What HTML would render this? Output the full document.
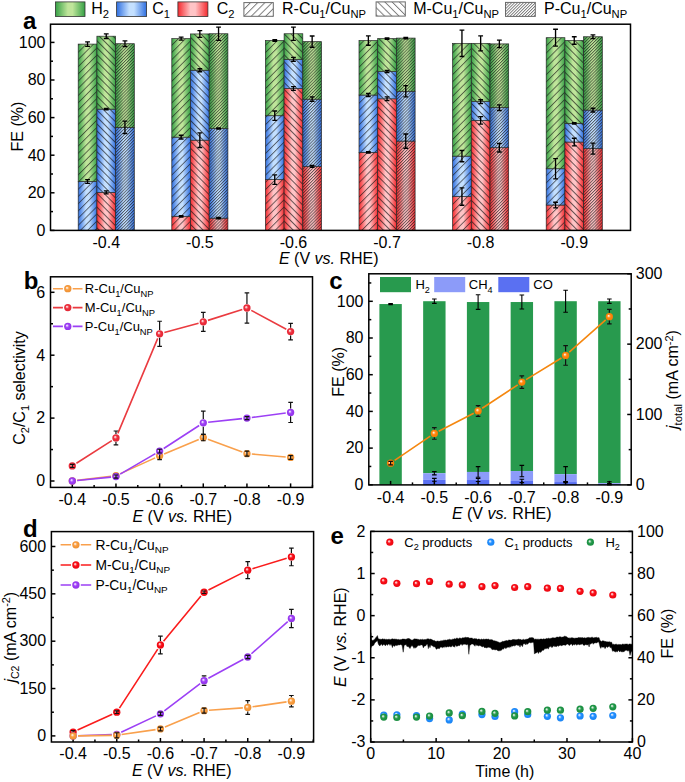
<!DOCTYPE html>
<html><head><meta charset="utf-8"><title>figure</title>
<style>
html,body{margin:0;padding:0;background:#fff;}
svg{display:block;font-family:"Liberation Sans",sans-serif;}
</style></head>
<body>
<svg width="685" height="782" viewBox="0 0 685 782" font-family="Liberation Sans, sans-serif">
<rect width="685" height="782" fill="#fff"/>
<defs>
<linearGradient id="lgg" x1="0" y1="0" x2="1" y2="0"><stop offset="0" stop-color="#35a045"/><stop offset="0.42" stop-color="#bfe59a"/><stop offset="0.58" stop-color="#bfe59a"/><stop offset="1" stop-color="#35a045"/></linearGradient>
<linearGradient id="lgb" x1="0" y1="0" x2="1" y2="0"><stop offset="0" stop-color="#2f6fe0"/><stop offset="0.42" stop-color="#c4e0ff"/><stop offset="0.58" stop-color="#c4e0ff"/><stop offset="1" stop-color="#2f6fe0"/></linearGradient>
<linearGradient id="lgr" x1="0" y1="0" x2="1" y2="0"><stop offset="0" stop-color="#f52a2e"/><stop offset="0.42" stop-color="#ffc4c6"/><stop offset="0.58" stop-color="#ffc4c6"/><stop offset="1" stop-color="#f52a2e"/></linearGradient>
<pattern id="hR" patternUnits="userSpaceOnUse" width="5.1" height="10" patternTransform="rotate(45)"><line x1="0.5" y1="-1" x2="0.5" y2="11" stroke="#111" stroke-width="0.75" stroke-opacity="0.85"/></pattern>
<pattern id="hM" patternUnits="userSpaceOnUse" width="4.9" height="10" patternTransform="rotate(-45)"><line x1="0.5" y1="-1" x2="0.5" y2="11" stroke="#111" stroke-width="0.75" stroke-opacity="0.85"/></pattern>
<pattern id="hP" patternUnits="userSpaceOnUse" width="2.15" height="10" patternTransform="rotate(45)"><line x1="0.5" y1="-1" x2="0.5" y2="11" stroke="#111" stroke-width="0.72" stroke-opacity="0.8"/></pattern>
<pattern id="hRL" patternUnits="userSpaceOnUse" width="5.1" height="10" patternTransform="rotate(45)"><line x1="0.5" y1="-1" x2="0.5" y2="11" stroke="#707070" stroke-width="0.9"/></pattern>
<pattern id="hML" patternUnits="userSpaceOnUse" width="5.1" height="10" patternTransform="rotate(-45)"><line x1="0.5" y1="-1" x2="0.5" y2="11" stroke="#707070" stroke-width="0.9"/></pattern>
<pattern id="hPL" patternUnits="userSpaceOnUse" width="2.1" height="10" patternTransform="rotate(45)"><line x1="0.5" y1="-1" x2="0.5" y2="11" stroke="#606060" stroke-width="0.75"/></pattern>
<radialGradient id="rbor" cx="0.5" cy="0.5" r="0.5" fx="0.37" fy="0.35"><stop offset="0" stop-color="#fff7ef"/><stop offset="0.18" stop-color="#fde1c4"/><stop offset="0.42" stop-color="#faa652"/><stop offset="0.6" stop-color="#f99a3a"/><stop offset="1" stop-color="#ea9137"/></radialGradient>
<radialGradient id="rbre" cx="0.5" cy="0.5" r="0.5" fx="0.37" fy="0.35"><stop offset="0" stop-color="#feeeef"/><stop offset="0.18" stop-color="#fac0c4"/><stop offset="0.42" stop-color="#f04552"/><stop offset="0.6" stop-color="#ee2c3a"/><stop offset="1" stop-color="#e02937"/></radialGradient>
<radialGradient id="rbpu" cx="0.5" cy="0.5" r="0.5" fx="0.37" fy="0.35"><stop offset="0" stop-color="#f7effe"/><stop offset="0.18" stop-color="#e1c4fc"/><stop offset="0.42" stop-color="#a752f6"/><stop offset="0.6" stop-color="#9b3af5"/><stop offset="1" stop-color="#9237e6"/></radialGradient>
<radialGradient id="rbbl" cx="0.5" cy="0.5" r="0.5" fx="0.37" fy="0.35"><stop offset="0" stop-color="#edf6ff"/><stop offset="0.18" stop-color="#bcdcff"/><stop offset="0.42" stop-color="#399aff"/><stop offset="0.6" stop-color="#1e8cff"/><stop offset="1" stop-color="#1c84f0"/></radialGradient>
<radialGradient id="rbgr" cx="0.5" cy="0.5" r="0.5" fx="0.37" fy="0.35"><stop offset="0" stop-color="#edf7f0"/><stop offset="0.18" stop-color="#bce0c8"/><stop offset="0.42" stop-color="#39a35c"/><stop offset="0.6" stop-color="#1e9646"/><stop offset="1" stop-color="#1c8d42"/></radialGradient>
<radialGradient id="rboo" cx="0.5" cy="0.5" r="0.5" fx="0.37" fy="0.35"><stop offset="0" stop-color="#fff5eb"/><stop offset="0.18" stop-color="#ffdab5"/><stop offset="0.42" stop-color="#ff9326"/><stop offset="0.6" stop-color="#ff8408"/><stop offset="1" stop-color="#f07c08"/></radialGradient>
<radialGradient id="rbrr" cx="0.5" cy="0.5" r="0.5" fx="0.37" fy="0.35"><stop offset="0" stop-color="#feebec"/><stop offset="0.18" stop-color="#fdb6b8"/><stop offset="0.42" stop-color="#f92730"/><stop offset="0.6" stop-color="#f80a14"/><stop offset="1" stop-color="#e90913"/></radialGradient>
</defs>
<rect x="55.4" y="1.9" width="29.6" height="14.6" fill="url(#lgg)" stroke="#333" stroke-width="0.8"/>
<text x="91.2" y="14.2" font-size="16" text-anchor="start" >H<tspan dy="4.2" font-size="70%">2</tspan><tspan dy="-4.2">​</tspan></text>
<rect x="116.6" y="1.9" width="30" height="14.6" fill="url(#lgb)" stroke="#333" stroke-width="0.8"/>
<text x="152.3" y="14.2" font-size="16" text-anchor="start" >C<tspan dy="4.2" font-size="70%">1</tspan><tspan dy="-4.2">​</tspan></text>
<rect x="177.9" y="1.9" width="30" height="14.6" fill="url(#lgr)" stroke="#333" stroke-width="0.8"/>
<text x="216.8" y="14.2" font-size="16" text-anchor="start" >C<tspan dy="4.2" font-size="70%">2</tspan><tspan dy="-4.2">​</tspan></text>
<rect x="243.9" y="2.6" width="29.4" height="13.7" fill="#fff"/>
<rect x="243.9" y="2.6" width="29.4" height="13.7" fill="url(#hRL)" stroke="#6a6a6a" stroke-width="1"/>
<text x="282" y="14.2" font-size="16" text-anchor="start" >R-Cu<tspan dy="4.2" font-size="70%">1</tspan><tspan dy="-4.2">​</tspan>/Cu<tspan dy="4.2" font-size="70%">NP</tspan><tspan dy="-4.2">​</tspan></text>
<rect x="376.1" y="1.9" width="29.2" height="14.2" fill="#fff"/>
<rect x="376.1" y="1.9" width="29.2" height="14.2" fill="url(#hML)" stroke="#6a6a6a" stroke-width="1"/>
<text x="413.2" y="14.2" font-size="16" text-anchor="start" >M-Cu<tspan dy="4.2" font-size="70%">1</tspan><tspan dy="-4.2">​</tspan>/Cu<tspan dy="4.2" font-size="70%">NP</tspan><tspan dy="-4.2">​</tspan></text>
<rect x="505.5" y="2.4" width="29.8" height="14" fill="#fff"/>
<rect x="505.5" y="2.4" width="29.8" height="14" fill="url(#hPL)" stroke="#6a6a6a" stroke-width="1"/>
<text x="544" y="14.2" font-size="16" text-anchor="start" >P-Cu<tspan dy="4.2" font-size="70%">1</tspan><tspan dy="-4.2">​</tspan>/Cu<tspan dy="4.2" font-size="70%">NP</tspan><tspan dy="-4.2">​</tspan></text>
<text x="23" y="28.5" font-size="24" text-anchor="start" font-weight="bold">a</text>
<rect x="78.2" y="181.52" width="18.7" height="48.88" fill="url(#lgb)" />
<rect x="78.2" y="181.52" width="18.7" height="48.88" fill="url(#hR)" stroke="#2a2a2a" stroke-width="0.7"/>
<rect x="78.2" y="44.09" width="18.7" height="137.43" fill="url(#lgg)" />
<rect x="78.2" y="44.09" width="18.7" height="137.43" fill="url(#hR)" stroke="#2a2a2a" stroke-width="0.7"/>
<rect x="96.9" y="192.42" width="18.7" height="37.98" fill="url(#lgr)" />
<rect x="96.9" y="192.42" width="18.7" height="37.98" fill="url(#hM)" stroke="#2a2a2a" stroke-width="0.7"/>
<rect x="96.9" y="109.14" width="18.7" height="83.28" fill="url(#lgb)" />
<rect x="96.9" y="109.14" width="18.7" height="83.28" fill="url(#hM)" stroke="#2a2a2a" stroke-width="0.7"/>
<rect x="96.9" y="36.2" width="18.7" height="72.94" fill="url(#lgg)" />
<rect x="96.9" y="36.2" width="18.7" height="72.94" fill="url(#hM)" stroke="#2a2a2a" stroke-width="0.7"/>
<rect x="115.6" y="127.38" width="18.7" height="103.02" fill="url(#lgb)" />
<rect x="115.6" y="127.38" width="18.7" height="103.02" fill="url(#hP)" stroke="#2a2a2a" stroke-width="0.7"/>
<rect x="115.6" y="43.72" width="18.7" height="83.66" fill="url(#lgg)" />
<rect x="115.6" y="43.72" width="18.7" height="83.66" fill="url(#hP)" stroke="#2a2a2a" stroke-width="0.7"/>
<rect x="171.8" y="216.3" width="18.7" height="14.1" fill="url(#lgr)" />
<rect x="171.8" y="216.3" width="18.7" height="14.1" fill="url(#hR)" stroke="#2a2a2a" stroke-width="0.7"/>
<rect x="171.8" y="137.15" width="18.7" height="79.15" fill="url(#lgb)" />
<rect x="171.8" y="137.15" width="18.7" height="79.15" fill="url(#hR)" stroke="#2a2a2a" stroke-width="0.7"/>
<rect x="171.8" y="38.64" width="18.7" height="98.51" fill="url(#lgg)" />
<rect x="171.8" y="38.64" width="18.7" height="98.51" fill="url(#hR)" stroke="#2a2a2a" stroke-width="0.7"/>
<rect x="190.5" y="140.16" width="18.7" height="90.24" fill="url(#lgr)" />
<rect x="190.5" y="140.16" width="18.7" height="90.24" fill="url(#hM)" stroke="#2a2a2a" stroke-width="0.7"/>
<rect x="190.5" y="70.22" width="18.7" height="69.94" fill="url(#lgb)" />
<rect x="190.5" y="70.22" width="18.7" height="69.94" fill="url(#hM)" stroke="#2a2a2a" stroke-width="0.7"/>
<rect x="190.5" y="33.94" width="18.7" height="36.28" fill="url(#lgg)" />
<rect x="190.5" y="33.94" width="18.7" height="36.28" fill="url(#hM)" stroke="#2a2a2a" stroke-width="0.7"/>
<rect x="209.2" y="218.18" width="18.7" height="12.22" fill="url(#lgr)" />
<rect x="209.2" y="218.18" width="18.7" height="12.22" fill="url(#hP)" stroke="#2a2a2a" stroke-width="0.7"/>
<rect x="209.2" y="128.5" width="18.7" height="89.68" fill="url(#lgb)" />
<rect x="209.2" y="128.5" width="18.7" height="89.68" fill="url(#hP)" stroke="#2a2a2a" stroke-width="0.7"/>
<rect x="209.2" y="33.75" width="18.7" height="94.75" fill="url(#lgg)" />
<rect x="209.2" y="33.75" width="18.7" height="94.75" fill="url(#hP)" stroke="#2a2a2a" stroke-width="0.7"/>
<rect x="265.4" y="179.64" width="18.7" height="50.76" fill="url(#lgr)" />
<rect x="265.4" y="179.64" width="18.7" height="50.76" fill="url(#hR)" stroke="#2a2a2a" stroke-width="0.7"/>
<rect x="265.4" y="115.72" width="18.7" height="63.92" fill="url(#lgb)" />
<rect x="265.4" y="115.72" width="18.7" height="63.92" fill="url(#hR)" stroke="#2a2a2a" stroke-width="0.7"/>
<rect x="265.4" y="40.52" width="18.7" height="75.2" fill="url(#lgg)" />
<rect x="265.4" y="40.52" width="18.7" height="75.2" fill="url(#hR)" stroke="#2a2a2a" stroke-width="0.7"/>
<rect x="284.1" y="88.46" width="18.7" height="141.94" fill="url(#lgr)" />
<rect x="284.1" y="88.46" width="18.7" height="141.94" fill="url(#hM)" stroke="#2a2a2a" stroke-width="0.7"/>
<rect x="284.1" y="59.32" width="18.7" height="29.14" fill="url(#lgb)" />
<rect x="284.1" y="59.32" width="18.7" height="29.14" fill="url(#hM)" stroke="#2a2a2a" stroke-width="0.7"/>
<rect x="284.1" y="33.75" width="18.7" height="25.57" fill="url(#lgg)" />
<rect x="284.1" y="33.75" width="18.7" height="25.57" fill="url(#hM)" stroke="#2a2a2a" stroke-width="0.7"/>
<rect x="302.8" y="166.48" width="18.7" height="63.92" fill="url(#lgr)" />
<rect x="302.8" y="166.48" width="18.7" height="63.92" fill="url(#hP)" stroke="#2a2a2a" stroke-width="0.7"/>
<rect x="302.8" y="99.18" width="18.7" height="67.3" fill="url(#lgb)" />
<rect x="302.8" y="99.18" width="18.7" height="67.3" fill="url(#hP)" stroke="#2a2a2a" stroke-width="0.7"/>
<rect x="302.8" y="41.65" width="18.7" height="57.53" fill="url(#lgg)" />
<rect x="302.8" y="41.65" width="18.7" height="57.53" fill="url(#hP)" stroke="#2a2a2a" stroke-width="0.7"/>
<rect x="359" y="152.38" width="18.7" height="78.02" fill="url(#lgr)" />
<rect x="359" y="152.38" width="18.7" height="78.02" fill="url(#hR)" stroke="#2a2a2a" stroke-width="0.7"/>
<rect x="359" y="95.04" width="18.7" height="57.34" fill="url(#lgb)" />
<rect x="359" y="95.04" width="18.7" height="57.34" fill="url(#hR)" stroke="#2a2a2a" stroke-width="0.7"/>
<rect x="359" y="40.52" width="18.7" height="54.52" fill="url(#lgg)" />
<rect x="359" y="40.52" width="18.7" height="54.52" fill="url(#hR)" stroke="#2a2a2a" stroke-width="0.7"/>
<rect x="377.7" y="98.8" width="18.7" height="131.6" fill="url(#lgr)" />
<rect x="377.7" y="98.8" width="18.7" height="131.6" fill="url(#hM)" stroke="#2a2a2a" stroke-width="0.7"/>
<rect x="377.7" y="71.54" width="18.7" height="27.26" fill="url(#lgb)" />
<rect x="377.7" y="71.54" width="18.7" height="27.26" fill="url(#hM)" stroke="#2a2a2a" stroke-width="0.7"/>
<rect x="377.7" y="38.64" width="18.7" height="32.9" fill="url(#lgg)" />
<rect x="377.7" y="38.64" width="18.7" height="32.9" fill="url(#hM)" stroke="#2a2a2a" stroke-width="0.7"/>
<rect x="396.4" y="141.1" width="18.7" height="89.3" fill="url(#lgr)" />
<rect x="396.4" y="141.1" width="18.7" height="89.3" fill="url(#hP)" stroke="#2a2a2a" stroke-width="0.7"/>
<rect x="396.4" y="91.28" width="18.7" height="49.82" fill="url(#lgb)" />
<rect x="396.4" y="91.28" width="18.7" height="49.82" fill="url(#hP)" stroke="#2a2a2a" stroke-width="0.7"/>
<rect x="396.4" y="38.08" width="18.7" height="53.2" fill="url(#lgg)" />
<rect x="396.4" y="38.08" width="18.7" height="53.2" fill="url(#hP)" stroke="#2a2a2a" stroke-width="0.7"/>
<rect x="452.6" y="196.56" width="18.7" height="33.84" fill="url(#lgr)" />
<rect x="452.6" y="196.56" width="18.7" height="33.84" fill="url(#hR)" stroke="#2a2a2a" stroke-width="0.7"/>
<rect x="452.6" y="156.14" width="18.7" height="40.42" fill="url(#lgb)" />
<rect x="452.6" y="156.14" width="18.7" height="40.42" fill="url(#hR)" stroke="#2a2a2a" stroke-width="0.7"/>
<rect x="452.6" y="43.34" width="18.7" height="112.8" fill="url(#lgg)" />
<rect x="452.6" y="43.34" width="18.7" height="112.8" fill="url(#hR)" stroke="#2a2a2a" stroke-width="0.7"/>
<rect x="471.3" y="120.42" width="18.7" height="109.98" fill="url(#lgr)" />
<rect x="471.3" y="120.42" width="18.7" height="109.98" fill="url(#hM)" stroke="#2a2a2a" stroke-width="0.7"/>
<rect x="471.3" y="101.62" width="18.7" height="18.8" fill="url(#lgb)" />
<rect x="471.3" y="101.62" width="18.7" height="18.8" fill="url(#hM)" stroke="#2a2a2a" stroke-width="0.7"/>
<rect x="471.3" y="43.34" width="18.7" height="58.28" fill="url(#lgg)" />
<rect x="471.3" y="43.34" width="18.7" height="58.28" fill="url(#hM)" stroke="#2a2a2a" stroke-width="0.7"/>
<rect x="490" y="147.68" width="18.7" height="82.72" fill="url(#lgr)" />
<rect x="490" y="147.68" width="18.7" height="82.72" fill="url(#hP)" stroke="#2a2a2a" stroke-width="0.7"/>
<rect x="490" y="107.64" width="18.7" height="40.04" fill="url(#lgb)" />
<rect x="490" y="107.64" width="18.7" height="40.04" fill="url(#hP)" stroke="#2a2a2a" stroke-width="0.7"/>
<rect x="490" y="43.9" width="18.7" height="63.73" fill="url(#lgg)" />
<rect x="490" y="43.9" width="18.7" height="63.73" fill="url(#hP)" stroke="#2a2a2a" stroke-width="0.7"/>
<rect x="546.2" y="205.02" width="18.7" height="25.38" fill="url(#lgr)" />
<rect x="546.2" y="205.02" width="18.7" height="25.38" fill="url(#hR)" stroke="#2a2a2a" stroke-width="0.7"/>
<rect x="546.2" y="168.74" width="18.7" height="36.28" fill="url(#lgb)" />
<rect x="546.2" y="168.74" width="18.7" height="36.28" fill="url(#hR)" stroke="#2a2a2a" stroke-width="0.7"/>
<rect x="546.2" y="37.7" width="18.7" height="131.04" fill="url(#lgg)" />
<rect x="546.2" y="37.7" width="18.7" height="131.04" fill="url(#hR)" stroke="#2a2a2a" stroke-width="0.7"/>
<rect x="564.9" y="142.04" width="18.7" height="88.36" fill="url(#lgr)" />
<rect x="564.9" y="142.04" width="18.7" height="88.36" fill="url(#hM)" stroke="#2a2a2a" stroke-width="0.7"/>
<rect x="564.9" y="123.43" width="18.7" height="18.61" fill="url(#lgb)" />
<rect x="564.9" y="123.43" width="18.7" height="18.61" fill="url(#hM)" stroke="#2a2a2a" stroke-width="0.7"/>
<rect x="564.9" y="40.52" width="18.7" height="82.91" fill="url(#lgg)" />
<rect x="564.9" y="40.52" width="18.7" height="82.91" fill="url(#hM)" stroke="#2a2a2a" stroke-width="0.7"/>
<rect x="583.6" y="148.62" width="18.7" height="81.78" fill="url(#lgr)" />
<rect x="583.6" y="148.62" width="18.7" height="81.78" fill="url(#hP)" stroke="#2a2a2a" stroke-width="0.7"/>
<rect x="583.6" y="110.08" width="18.7" height="38.54" fill="url(#lgb)" />
<rect x="583.6" y="110.08" width="18.7" height="38.54" fill="url(#hP)" stroke="#2a2a2a" stroke-width="0.7"/>
<rect x="583.6" y="36.76" width="18.7" height="73.32" fill="url(#lgg)" />
<rect x="583.6" y="36.76" width="18.7" height="73.32" fill="url(#hP)" stroke="#2a2a2a" stroke-width="0.7"/>
<path d="M87.55 179.64V183.4M85.15 179.64H89.95M85.15 183.4H89.95" stroke="#000" stroke-width="1.35" fill="none"/>
<path d="M87.55 41.84V46.35M85.15 41.84H89.95M85.15 46.35H89.95" stroke="#000" stroke-width="1.35" fill="none"/>
<path d="M106.25 190.92V193.93M103.85 190.92H108.65M103.85 193.93H108.65" stroke="#000" stroke-width="1.35" fill="none"/>
<path d="M106.25 108.48V109.8M103.85 108.48H108.65M103.85 109.8H108.65" stroke="#000" stroke-width="1.35" fill="none"/>
<path d="M106.25 33.94V38.45M103.85 33.94H108.65M103.85 38.45H108.65" stroke="#000" stroke-width="1.35" fill="none"/>
<path d="M124.95 121.17V133.58M122.55 121.17H127.35M122.55 133.58H127.35" stroke="#000" stroke-width="1.35" fill="none"/>
<path d="M124.95 40.9V46.54M122.55 40.9H127.35M122.55 46.54H127.35" stroke="#000" stroke-width="1.35" fill="none"/>
<path d="M181.15 215.64V216.96M178.75 215.64H183.55M178.75 216.96H183.55" stroke="#000" stroke-width="1.35" fill="none"/>
<path d="M181.15 135.27V139.03M178.75 135.27H183.55M178.75 139.03H183.55" stroke="#000" stroke-width="1.35" fill="none"/>
<path d="M181.15 37.14V40.14M178.75 37.14H183.55M178.75 40.14H183.55" stroke="#000" stroke-width="1.35" fill="none"/>
<path d="M199.85 132.83V147.49M197.45 132.83H202.25M197.45 147.49H202.25" stroke="#000" stroke-width="1.35" fill="none"/>
<path d="M199.85 68.72V71.73M197.45 68.72H202.25M197.45 71.73H202.25" stroke="#000" stroke-width="1.35" fill="none"/>
<path d="M199.85 30.56V37.32M197.45 30.56H202.25M197.45 37.32H202.25" stroke="#000" stroke-width="1.35" fill="none"/>
<path d="M218.55 217.52V218.84M216.15 217.52H220.95M216.15 218.84H220.95" stroke="#000" stroke-width="1.35" fill="none"/>
<path d="M218.55 127.85V129.16M216.15 127.85H220.95M216.15 129.16H220.95" stroke="#000" stroke-width="1.35" fill="none"/>
<path d="M218.55 27.17V40.33M216.15 27.17H220.95M216.15 40.33H220.95" stroke="#000" stroke-width="1.35" fill="none"/>
<path d="M274.75 174.94V184.34M272.35 174.94H277.15M272.35 184.34H277.15" stroke="#000" stroke-width="1.35" fill="none"/>
<path d="M274.75 111.02V120.42M272.35 111.02H277.15M272.35 120.42H277.15" stroke="#000" stroke-width="1.35" fill="none"/>
<path d="M274.75 39.77V41.27M272.35 39.77H277.15M272.35 41.27H277.15" stroke="#000" stroke-width="1.35" fill="none"/>
<path d="M293.45 86.58V90.34M291.05 86.58H295.85M291.05 90.34H295.85" stroke="#000" stroke-width="1.35" fill="none"/>
<path d="M293.45 57.44V61.2M291.05 57.44H295.85M291.05 61.2H295.85" stroke="#000" stroke-width="1.35" fill="none"/>
<path d="M293.45 27.17V40.33M291.05 27.17H295.85M291.05 40.33H295.85" stroke="#000" stroke-width="1.35" fill="none"/>
<path d="M312.15 165.54V167.42M309.75 165.54H314.55M309.75 167.42H314.55" stroke="#000" stroke-width="1.35" fill="none"/>
<path d="M312.15 96.92V101.43M309.75 96.92H314.55M309.75 101.43H314.55" stroke="#000" stroke-width="1.35" fill="none"/>
<path d="M312.15 36.01V47.29M309.75 36.01H314.55M309.75 47.29H314.55" stroke="#000" stroke-width="1.35" fill="none"/>
<path d="M368.35 151.72V153.04M365.95 151.72H370.75M365.95 153.04H370.75" stroke="#000" stroke-width="1.35" fill="none"/>
<path d="M368.35 93.54V96.54M365.95 93.54H370.75M365.95 96.54H370.75" stroke="#000" stroke-width="1.35" fill="none"/>
<path d="M368.35 35.82V45.22M365.95 35.82H370.75M365.95 45.22H370.75" stroke="#000" stroke-width="1.35" fill="none"/>
<path d="M387.05 96.92V100.68M384.65 96.92H389.45M384.65 100.68H389.45" stroke="#000" stroke-width="1.35" fill="none"/>
<path d="M387.05 70.41V72.67M384.65 70.41H389.45M384.65 72.67H389.45" stroke="#000" stroke-width="1.35" fill="none"/>
<path d="M387.05 37.98V39.3M384.65 37.98H389.45M384.65 39.3H389.45" stroke="#000" stroke-width="1.35" fill="none"/>
<path d="M405.75 133.96V148.24M403.35 133.96H408.15M403.35 148.24H408.15" stroke="#000" stroke-width="1.35" fill="none"/>
<path d="M405.75 85.64V96.92M403.35 85.64H408.15M403.35 96.92H408.15" stroke="#000" stroke-width="1.35" fill="none"/>
<path d="M405.75 37.42V38.73M403.35 37.42H408.15M403.35 38.73H408.15" stroke="#000" stroke-width="1.35" fill="none"/>
<path d="M461.95 187.91V205.21M459.55 187.91H464.35M459.55 205.21H464.35" stroke="#000" stroke-width="1.35" fill="none"/>
<path d="M461.95 150.5V161.78M459.55 150.5H464.35M459.55 161.78H464.35" stroke="#000" stroke-width="1.35" fill="none"/>
<path d="M461.95 30.18V56.5M459.55 30.18H464.35M459.55 56.5H464.35" stroke="#000" stroke-width="1.35" fill="none"/>
<path d="M480.65 116.66V124.18M478.25 116.66H483.05M478.25 124.18H483.05" stroke="#000" stroke-width="1.35" fill="none"/>
<path d="M480.65 99.74V103.5M478.25 99.74H483.05M478.25 103.5H483.05" stroke="#000" stroke-width="1.35" fill="none"/>
<path d="M480.65 35.82V50.86M478.25 35.82H483.05M478.25 50.86H483.05" stroke="#000" stroke-width="1.35" fill="none"/>
<path d="M499.35 143.36V152M496.95 143.36H501.75M496.95 152H501.75" stroke="#000" stroke-width="1.35" fill="none"/>
<path d="M499.35 104.82V110.46M496.95 104.82H501.75M496.95 110.46H501.75" stroke="#000" stroke-width="1.35" fill="none"/>
<path d="M499.35 40.14V47.66M496.95 40.14H501.75M496.95 47.66H501.75" stroke="#000" stroke-width="1.35" fill="none"/>
<path d="M555.55 202.2V207.84M553.15 202.2H557.95M553.15 207.84H557.95" stroke="#000" stroke-width="1.35" fill="none"/>
<path d="M555.55 158.58V178.89M553.15 158.58H557.95M553.15 178.89H557.95" stroke="#000" stroke-width="1.35" fill="none"/>
<path d="M555.55 29.24V46.16M553.15 29.24H557.95M553.15 46.16H557.95" stroke="#000" stroke-width="1.35" fill="none"/>
<path d="M574.25 138.28V145.8M571.85 138.28H576.65M571.85 145.8H576.65" stroke="#000" stroke-width="1.35" fill="none"/>
<path d="M574.25 122.77V124.09M571.85 122.77H576.65M571.85 124.09H576.65" stroke="#000" stroke-width="1.35" fill="none"/>
<path d="M574.25 36.76V44.28M571.85 36.76H576.65M571.85 44.28H576.65" stroke="#000" stroke-width="1.35" fill="none"/>
<path d="M592.95 143.17V154.07M590.55 143.17H595.35M590.55 154.07H595.35" stroke="#000" stroke-width="1.35" fill="none"/>
<path d="M592.95 108.2V111.96M590.55 108.2H595.35M590.55 111.96H595.35" stroke="#000" stroke-width="1.35" fill="none"/>
<path d="M592.95 34.88V38.64M590.55 34.88H595.35M590.55 38.64H595.35" stroke="#000" stroke-width="1.35" fill="none"/>
<rect x="50.5" y="24.2" width="580" height="206.2" fill="none" stroke="#000" stroke-width="1.5"/>
<line x1="50.5" y1="230.4" x2="54.5" y2="230.4" stroke="#000" stroke-width="1.5" />
<text x="45.5" y="235.7" font-size="16" text-anchor="end" >0</text>
<line x1="50.5" y1="192.8" x2="54.5" y2="192.8" stroke="#000" stroke-width="1.5" />
<text x="45.5" y="198.1" font-size="16" text-anchor="end" >20</text>
<line x1="50.5" y1="155.2" x2="54.5" y2="155.2" stroke="#000" stroke-width="1.5" />
<text x="45.5" y="160.5" font-size="16" text-anchor="end" >40</text>
<line x1="50.5" y1="117.6" x2="54.5" y2="117.6" stroke="#000" stroke-width="1.5" />
<text x="45.5" y="122.9" font-size="16" text-anchor="end" >60</text>
<line x1="50.5" y1="80" x2="54.5" y2="80" stroke="#000" stroke-width="1.5" />
<text x="45.5" y="85.3" font-size="16" text-anchor="end" >80</text>
<line x1="50.5" y1="42.4" x2="54.5" y2="42.4" stroke="#000" stroke-width="1.5" />
<text x="45.5" y="47.7" font-size="16" text-anchor="end" >100</text>
<line x1="50.5" y1="211.6" x2="53" y2="211.6" stroke="#000" stroke-width="1.5" />
<line x1="50.5" y1="174" x2="53" y2="174" stroke="#000" stroke-width="1.5" />
<line x1="50.5" y1="136.4" x2="53" y2="136.4" stroke="#000" stroke-width="1.5" />
<line x1="50.5" y1="98.8" x2="53" y2="98.8" stroke="#000" stroke-width="1.5" />
<line x1="50.5" y1="61.2" x2="53" y2="61.2" stroke="#000" stroke-width="1.5" />
<text x="106.25" y="247.6" font-size="16" text-anchor="middle" >-0.4</text>
<text x="199.85" y="247.6" font-size="16" text-anchor="middle" >-0.5</text>
<text x="293.45" y="247.6" font-size="16" text-anchor="middle" >-0.6</text>
<text x="387.05" y="247.6" font-size="16" text-anchor="middle" >-0.7</text>
<text x="480.65" y="247.6" font-size="16" text-anchor="middle" >-0.8</text>
<text x="574.25" y="247.6" font-size="16" text-anchor="middle" >-0.9</text>
<text x="328.8" y="264.4" font-size="16" text-anchor="middle" ><tspan font-style="italic">E</tspan> (V <tspan font-style="italic">vs.</tspan> RHE)</text>
<text x="0" y="0" font-size="16" text-anchor="middle" transform="translate(23.2 126.6) rotate(-90)">FE (%)</text>
<rect x="50.5" y="276.8" width="262" height="210.6" fill="none" stroke="#000" stroke-width="1.5"/>
<line x1="72.3" y1="487.4" x2="72.3" y2="483.4" stroke="#000" stroke-width="1.5" />
<text x="72.3" y="504.6" font-size="16" text-anchor="middle" >-0.4</text>
<line x1="115.96" y1="487.4" x2="115.96" y2="483.4" stroke="#000" stroke-width="1.5" />
<text x="115.96" y="504.6" font-size="16" text-anchor="middle" >-0.5</text>
<line x1="159.62" y1="487.4" x2="159.62" y2="483.4" stroke="#000" stroke-width="1.5" />
<text x="159.62" y="504.6" font-size="16" text-anchor="middle" >-0.6</text>
<line x1="203.28" y1="487.4" x2="203.28" y2="483.4" stroke="#000" stroke-width="1.5" />
<text x="203.28" y="504.6" font-size="16" text-anchor="middle" >-0.7</text>
<line x1="246.94" y1="487.4" x2="246.94" y2="483.4" stroke="#000" stroke-width="1.5" />
<text x="246.94" y="504.6" font-size="16" text-anchor="middle" >-0.8</text>
<line x1="290.6" y1="487.4" x2="290.6" y2="483.4" stroke="#000" stroke-width="1.5" />
<text x="290.6" y="504.6" font-size="16" text-anchor="middle" >-0.9</text>
<line x1="94.13" y1="487.4" x2="94.13" y2="484.9" stroke="#000" stroke-width="1.5" />
<line x1="137.79" y1="487.4" x2="137.79" y2="484.9" stroke="#000" stroke-width="1.5" />
<line x1="181.45" y1="487.4" x2="181.45" y2="484.9" stroke="#000" stroke-width="1.5" />
<line x1="225.11" y1="487.4" x2="225.11" y2="484.9" stroke="#000" stroke-width="1.5" />
<line x1="268.77" y1="487.4" x2="268.77" y2="484.9" stroke="#000" stroke-width="1.5" />
<line x1="312.43" y1="487.4" x2="312.43" y2="484.9" stroke="#000" stroke-width="1.5" />
<line x1="50.5" y1="481" x2="54.5" y2="481" stroke="#000" stroke-width="1.5" />
<text x="45.2" y="486.3" font-size="16" text-anchor="end" >0</text>
<line x1="50.5" y1="418.1" x2="54.5" y2="418.1" stroke="#000" stroke-width="1.5" />
<text x="45.2" y="423.4" font-size="16" text-anchor="end" >2</text>
<line x1="50.5" y1="355.2" x2="54.5" y2="355.2" stroke="#000" stroke-width="1.5" />
<text x="45.2" y="360.5" font-size="16" text-anchor="end" >4</text>
<line x1="50.5" y1="292.3" x2="54.5" y2="292.3" stroke="#000" stroke-width="1.5" />
<text x="45.2" y="297.6" font-size="16" text-anchor="end" >6</text>
<line x1="50.5" y1="449.55" x2="53" y2="449.55" stroke="#000" stroke-width="1.5" />
<line x1="50.5" y1="386.65" x2="53" y2="386.65" stroke="#000" stroke-width="1.5" />
<line x1="50.5" y1="323.75" x2="53" y2="323.75" stroke="#000" stroke-width="1.5" />
<path d="M76.43 463.26L111.83 440.56M117.86 433.39L157.72 338.33M164.35 332.52L198.55 323.16M207.95 320.38L242.27 309.51M251.25 310.35L286.29 329.28" fill="none" stroke="#ea3b40" stroke-width="1.6"/>
<circle cx="72.3" cy="465.9" r="3.65" fill="url(#rbre)"/>
<circle cx="115.96" cy="437.91" r="3.65" fill="url(#rbre)"/>
<circle cx="159.62" cy="333.81" r="3.65" fill="url(#rbre)"/>
<circle cx="203.28" cy="321.86" r="3.65" fill="url(#rbre)"/>
<circle cx="246.94" cy="308.02" r="3.65" fill="url(#rbre)"/>
<circle cx="290.6" cy="331.61" r="3.65" fill="url(#rbre)"/>
<path d="M70 464.33H74.6M70 467.48H74.6M72.3 464.33V465.9M72.3 465.9V467.48" stroke="#111" stroke-width="1.2" fill="none"/>
<path d="M113.66 430.99H118.26M113.66 444.83H118.26M115.96 430.99V434.01M115.96 441.81V444.83" stroke="#111" stroke-width="1.2" fill="none"/>
<path d="M157.32 321.23H161.92M157.32 346.39H161.92M159.62 321.23V329.91M159.62 337.71V346.39" stroke="#111" stroke-width="1.2" fill="none"/>
<path d="M200.98 312.43H205.58M200.98 331.3H205.58M203.28 312.43V317.96M203.28 325.76V331.3" stroke="#111" stroke-width="1.2" fill="none"/>
<path d="M244.64 292.93H249.24M244.64 323.12H249.24M246.94 292.93V304.12M246.94 311.92V323.12" stroke="#111" stroke-width="1.2" fill="none"/>
<path d="M288.3 323.44H292.9M288.3 339.79H292.9M290.6 323.44V327.71M290.6 335.51V339.79" stroke="#111" stroke-width="1.2" fill="none"/>
<path d="M77.16 480.4L111.1 476.25M120.42 473.63L155.16 457.86M164.14 453.95L198.76 439.49M207.88 439.29L242.34 451.95M251.82 454.06L285.72 456.99" fill="none" stroke="#f9a04c" stroke-width="1.6"/>
<circle cx="72.3" cy="481" r="3.65" fill="url(#rbor)"/>
<circle cx="115.96" cy="475.65" r="3.65" fill="url(#rbor)"/>
<circle cx="159.62" cy="455.84" r="3.65" fill="url(#rbor)"/>
<circle cx="203.28" cy="437.6" r="3.65" fill="url(#rbor)"/>
<circle cx="246.94" cy="453.64" r="3.65" fill="url(#rbor)"/>
<circle cx="290.6" cy="457.41" r="3.65" fill="url(#rbor)"/>
<path d="M113.66 474.08H118.26M113.66 477.23H118.26M115.96 474.08V475.65M115.96 475.65V477.23" stroke="#111" stroke-width="1.2" fill="none"/>
<path d="M157.32 452.07H161.92M157.32 459.61H161.92M159.62 452.07V455.84M159.62 455.84V459.61" stroke="#111" stroke-width="1.2" fill="none"/>
<path d="M200.98 434.45H205.58M200.98 440.74H205.58M203.28 434.45V437.6M203.28 437.6V440.74" stroke="#111" stroke-width="1.2" fill="none"/>
<path d="M244.64 451.12H249.24M244.64 456.15H249.24M246.94 451.12V453.64M246.94 453.64V456.15" stroke="#111" stroke-width="1.2" fill="none"/>
<path d="M288.3 455.53H292.9M288.3 459.3H292.9M290.6 455.53V457.41M290.6 457.41V459.3" stroke="#111" stroke-width="1.2" fill="none"/>
<path d="M77.18 480.51L111.08 477.09M120.19 474.13L155.39 453.59M163.73 448.46L199.17 425.48M208.15 422.29L242.07 418.63M251.8 417.47L285.74 413.07" fill="none" stroke="#9c40f5" stroke-width="1.6"/>
<circle cx="72.3" cy="481" r="3.65" fill="url(#rbpu)"/>
<circle cx="115.96" cy="476.6" r="3.65" fill="url(#rbpu)"/>
<circle cx="159.62" cy="451.12" r="3.65" fill="url(#rbpu)"/>
<circle cx="203.28" cy="422.82" r="3.65" fill="url(#rbpu)"/>
<circle cx="246.94" cy="418.1" r="3.65" fill="url(#rbpu)"/>
<circle cx="290.6" cy="412.44" r="3.65" fill="url(#rbpu)"/>
<path d="M113.66 475.02H118.26M113.66 478.17H118.26M115.96 475.02V476.6M115.96 476.6V478.17" stroke="#111" stroke-width="1.2" fill="none"/>
<path d="M157.32 449.24H161.92M157.32 453.01H161.92M159.62 449.24V451.12M159.62 451.12V453.01" stroke="#111" stroke-width="1.2" fill="none"/>
<path d="M200.98 411.18H205.58M200.98 434.45H205.58M203.28 411.18V418.92M203.28 426.72V434.45" stroke="#111" stroke-width="1.2" fill="none"/>
<path d="M244.64 416.53H249.24M244.64 419.67H249.24M246.94 416.53V418.1M246.94 418.1V419.67" stroke="#111" stroke-width="1.2" fill="none"/>
<path d="M288.3 402.38H292.9M288.3 422.5H292.9M290.6 402.38V408.54M290.6 416.34V422.5" stroke="#111" stroke-width="1.2" fill="none"/>
<path d="M53 288.7L67.8 288.7M67.8 288.7L82.5 288.7" fill="none" stroke="#f9a04c" stroke-width="1.6"/>
<rect x="62.9" y="286.7" width="9.8" height="4" fill="#fff"/>
<circle cx="67.8" cy="288.7" r="3.65" fill="url(#rbor)"/>
<text x="84.8" y="293.3" font-size="13" text-anchor="start" >R-Cu<tspan dy="3.6" font-size="72%">1</tspan><tspan dy="-3.6">​</tspan>/Cu<tspan dy="3.6" font-size="72%">NP</tspan><tspan dy="-3.6">​</tspan></text>
<path d="M53 307.6L67.8 307.6M67.8 307.6L82.5 307.6" fill="none" stroke="#ea3b40" stroke-width="1.6"/>
<rect x="62.9" y="305.6" width="9.8" height="4" fill="#fff"/>
<circle cx="67.8" cy="307.6" r="3.65" fill="url(#rbre)"/>
<text x="84.8" y="312.2" font-size="13" text-anchor="start" >M-Cu<tspan dy="3.6" font-size="72%">1</tspan><tspan dy="-3.6">​</tspan>/Cu<tspan dy="3.6" font-size="72%">NP</tspan><tspan dy="-3.6">​</tspan></text>
<path d="M53 326.4L67.8 326.4M67.8 326.4L82.5 326.4" fill="none" stroke="#9c40f5" stroke-width="1.6"/>
<rect x="62.9" y="324.4" width="9.8" height="4" fill="#fff"/>
<circle cx="67.8" cy="326.4" r="3.65" fill="url(#rbpu)"/>
<text x="84.8" y="331" font-size="13" text-anchor="start" >P-Cu<tspan dy="3.6" font-size="72%">1</tspan><tspan dy="-3.6">​</tspan>/Cu<tspan dy="3.6" font-size="72%">NP</tspan><tspan dy="-3.6">​</tspan></text>
<text x="23.8" y="289.4" font-size="24" text-anchor="start" font-weight="bold">b</text>
<text x="182.3" y="521.8" font-size="16" text-anchor="middle" ><tspan font-style="italic">E</tspan> (V <tspan font-style="italic">vs.</tspan> RHE)</text>
<text font-size="16" text-anchor="middle" transform="translate(24.6 388.0) rotate(-90)">C<tspan dy="4.4" font-size="68%">2</tspan><tspan dy="-4.4">​</tspan>/C<tspan dy="4.4" font-size="68%">1</tspan><tspan dy="-4.4">​</tspan> selectivity</text>
<rect x="51.4" y="531.6" width="262.2" height="210.4" fill="none" stroke="#000" stroke-width="1.5"/>
<line x1="73.1" y1="742" x2="73.1" y2="738" stroke="#000" stroke-width="1.5" />
<text x="73.1" y="759" font-size="16" text-anchor="middle" >-0.4</text>
<line x1="116.76" y1="742" x2="116.76" y2="738" stroke="#000" stroke-width="1.5" />
<text x="116.76" y="759" font-size="16" text-anchor="middle" >-0.5</text>
<line x1="160.42" y1="742" x2="160.42" y2="738" stroke="#000" stroke-width="1.5" />
<text x="160.42" y="759" font-size="16" text-anchor="middle" >-0.6</text>
<line x1="204.08" y1="742" x2="204.08" y2="738" stroke="#000" stroke-width="1.5" />
<text x="204.08" y="759" font-size="16" text-anchor="middle" >-0.7</text>
<line x1="247.74" y1="742" x2="247.74" y2="738" stroke="#000" stroke-width="1.5" />
<text x="247.74" y="759" font-size="16" text-anchor="middle" >-0.8</text>
<line x1="291.4" y1="742" x2="291.4" y2="738" stroke="#000" stroke-width="1.5" />
<text x="291.4" y="759" font-size="16" text-anchor="middle" >-0.9</text>
<line x1="94.93" y1="742" x2="94.93" y2="739.5" stroke="#000" stroke-width="1.5" />
<line x1="138.59" y1="742" x2="138.59" y2="739.5" stroke="#000" stroke-width="1.5" />
<line x1="182.25" y1="742" x2="182.25" y2="739.5" stroke="#000" stroke-width="1.5" />
<line x1="225.91" y1="742" x2="225.91" y2="739.5" stroke="#000" stroke-width="1.5" />
<line x1="269.57" y1="742" x2="269.57" y2="739.5" stroke="#000" stroke-width="1.5" />
<line x1="313.23" y1="742" x2="313.23" y2="739.5" stroke="#000" stroke-width="1.5" />
<line x1="51.4" y1="735.9" x2="55.4" y2="735.9" stroke="#000" stroke-width="1.5" />
<text x="46.1" y="741.2" font-size="16" text-anchor="end" >0</text>
<line x1="51.4" y1="688.54" x2="55.4" y2="688.54" stroke="#000" stroke-width="1.5" />
<text x="46.1" y="693.84" font-size="16" text-anchor="end" >150</text>
<line x1="51.4" y1="641.19" x2="55.4" y2="641.19" stroke="#000" stroke-width="1.5" />
<text x="46.1" y="646.49" font-size="16" text-anchor="end" >300</text>
<line x1="51.4" y1="593.84" x2="55.4" y2="593.84" stroke="#000" stroke-width="1.5" />
<text x="46.1" y="599.13" font-size="16" text-anchor="end" >450</text>
<line x1="51.4" y1="546.48" x2="55.4" y2="546.48" stroke="#000" stroke-width="1.5" />
<text x="46.1" y="551.78" font-size="16" text-anchor="end" >600</text>
<line x1="51.4" y1="712.22" x2="53.9" y2="712.22" stroke="#000" stroke-width="1.5" />
<line x1="51.4" y1="664.87" x2="53.9" y2="664.87" stroke="#000" stroke-width="1.5" />
<line x1="51.4" y1="617.51" x2="53.9" y2="617.51" stroke="#000" stroke-width="1.5" />
<line x1="51.4" y1="570.16" x2="53.9" y2="570.16" stroke="#000" stroke-width="1.5" />
<path d="M77.56 730.08L112.3 714.25M119.43 708.11L157.75 649.09M163.55 641.2L200.95 596.03M208.45 590.04L243.37 572.37M252.43 568.73L286.71 558.32" fill="none" stroke="#fa1c1c" stroke-width="1.6"/>
<circle cx="73.1" cy="732.11" r="3.65" fill="url(#rbrr)"/>
<circle cx="116.76" cy="712.22" r="3.65" fill="url(#rbrr)"/>
<circle cx="160.42" cy="644.98" r="3.65" fill="url(#rbrr)"/>
<circle cx="204.08" cy="592.26" r="3.65" fill="url(#rbrr)"/>
<circle cx="247.74" cy="570.16" r="3.65" fill="url(#rbrr)"/>
<circle cx="291.4" cy="556.9" r="3.65" fill="url(#rbrr)"/>
<path d="M70.8 730.53H75.4M70.8 733.69H75.4M73.1 730.53V732.11M73.1 732.11V733.69" stroke="#111" stroke-width="1.2" fill="none"/>
<path d="M114.46 710.96H119.06M114.46 713.49H119.06M116.76 710.96V712.22M116.76 712.22V713.49" stroke="#111" stroke-width="1.2" fill="none"/>
<path d="M158.12 636.14H162.72M158.12 653.82H162.72M160.42 636.14V641.08M160.42 648.88V653.82" stroke="#111" stroke-width="1.2" fill="none"/>
<path d="M201.78 590.99H206.38M201.78 593.52H206.38M204.08 590.99V592.26M204.08 592.26V593.52" stroke="#111" stroke-width="1.2" fill="none"/>
<path d="M245.44 561.63H250.04M245.44 578.68H250.04M247.74 561.63V566.26M247.74 574.06V578.68" stroke="#111" stroke-width="1.2" fill="none"/>
<path d="M289.1 548.06H293.7M289.1 565.74H293.7M291.4 548.06V553M291.4 560.8V565.74" stroke="#111" stroke-width="1.2" fill="none"/>
<path d="M78 735.72L111.86 734.5M121.19 732.24L155.99 715.89M164.32 710.84L200.18 683.62M208.39 678.32L243.43 659.31M251.41 653.73L287.73 621.7" fill="none" stroke="#9c40f5" stroke-width="1.6"/>
<circle cx="73.1" cy="735.9" r="3.65" fill="url(#rbpu)"/>
<circle cx="116.76" cy="734.32" r="3.65" fill="url(#rbpu)"/>
<circle cx="160.42" cy="713.8" r="3.65" fill="url(#rbpu)"/>
<circle cx="204.08" cy="680.65" r="3.65" fill="url(#rbpu)"/>
<circle cx="247.74" cy="656.98" r="3.65" fill="url(#rbpu)"/>
<circle cx="291.4" cy="618.46" r="3.65" fill="url(#rbpu)"/>
<path d="M114.46 733.37H119.06M114.46 735.27H119.06M116.76 733.37V734.32M116.76 734.32V735.27" stroke="#111" stroke-width="1.2" fill="none"/>
<path d="M158.12 712.22H162.72M158.12 715.38H162.72M160.42 712.22V713.8M160.42 713.8V715.38" stroke="#111" stroke-width="1.2" fill="none"/>
<path d="M201.78 675.92H206.38M201.78 685.39H206.38M204.08 675.92V676.75M204.08 684.55V685.39" stroke="#111" stroke-width="1.2" fill="none"/>
<path d="M245.44 655.4H250.04M245.44 658.55H250.04M247.74 655.4V656.98M247.74 656.98V658.55" stroke="#111" stroke-width="1.2" fill="none"/>
<path d="M289.1 609.3H293.7M289.1 627.61H293.7M291.4 609.3V614.56M291.4 622.36V627.61" stroke="#111" stroke-width="1.2" fill="none"/>
<path d="M78 735.83L111.86 735.34M121.61 734.57L155.57 729.66M164.94 727.06L199.56 712.54M208.97 710.29L242.85 707.84M252.59 706.79L286.55 701.87" fill="none" stroke="#f9a04c" stroke-width="1.6"/>
<circle cx="73.1" cy="735.9" r="3.65" fill="url(#rbor)"/>
<circle cx="116.76" cy="735.27" r="3.65" fill="url(#rbor)"/>
<circle cx="160.42" cy="728.95" r="3.65" fill="url(#rbor)"/>
<circle cx="204.08" cy="710.64" r="3.65" fill="url(#rbor)"/>
<circle cx="247.74" cy="707.49" r="3.65" fill="url(#rbor)"/>
<circle cx="291.4" cy="701.17" r="3.65" fill="url(#rbor)"/>
<path d="M114.46 732.74H119.06M114.46 737.79H119.06M116.76 732.74V735.27M116.76 735.27V737.79" stroke="#111" stroke-width="1.2" fill="none"/>
<path d="M158.12 727.06H162.72M158.12 730.85H162.72M160.42 727.06V728.95M160.42 728.95V730.85" stroke="#111" stroke-width="1.2" fill="none"/>
<path d="M201.78 708.12H206.38M201.78 713.17H206.38M204.08 708.12V710.64M204.08 710.64V713.17" stroke="#111" stroke-width="1.2" fill="none"/>
<path d="M245.44 700.54H250.04M245.44 714.43H250.04M247.74 700.54V703.59M247.74 711.39V714.43" stroke="#111" stroke-width="1.2" fill="none"/>
<path d="M289.1 695.49H293.7M289.1 706.86H293.7M291.4 695.49V697.27M291.4 705.07V706.86" stroke="#111" stroke-width="1.2" fill="none"/>
<path d="M60.6 544.8L75.9 544.8M75.9 544.8L91.2 544.8" fill="none" stroke="#f9a04c" stroke-width="1.6"/>
<rect x="71" y="542.8" width="9.8" height="4" fill="#fff"/>
<circle cx="75.9" cy="544.8" r="3.65" fill="url(#rbor)"/>
<text x="95.5" y="549.6" font-size="13.8" text-anchor="start" >R-Cu<tspan dy="3.6" font-size="72%">1</tspan><tspan dy="-3.6">​</tspan>/Cu<tspan dy="3.6" font-size="72%">NP</tspan><tspan dy="-3.6">​</tspan></text>
<path d="M60.6 565L75.9 565M75.9 565L91.2 565" fill="none" stroke="#fa1c1c" stroke-width="1.6"/>
<rect x="71" y="563" width="9.8" height="4" fill="#fff"/>
<circle cx="75.9" cy="565" r="3.65" fill="url(#rbrr)"/>
<text x="95.5" y="569.8" font-size="13.8" text-anchor="start" >M-Cu<tspan dy="3.6" font-size="72%">1</tspan><tspan dy="-3.6">​</tspan>/Cu<tspan dy="3.6" font-size="72%">NP</tspan><tspan dy="-3.6">​</tspan></text>
<path d="M60.6 585L75.9 585M75.9 585L91.2 585" fill="none" stroke="#9c40f5" stroke-width="1.6"/>
<rect x="71" y="583" width="9.8" height="4" fill="#fff"/>
<circle cx="75.9" cy="585" r="3.65" fill="url(#rbpu)"/>
<text x="95.5" y="589.8" font-size="13.8" text-anchor="start" >P-Cu<tspan dy="3.6" font-size="72%">1</tspan><tspan dy="-3.6">​</tspan>/Cu<tspan dy="3.6" font-size="72%">NP</tspan><tspan dy="-3.6">​</tspan></text>
<text x="23" y="537" font-size="24" text-anchor="start" font-weight="bold">d</text>
<text x="181.8" y="776" font-size="16" text-anchor="middle" ><tspan font-style="italic">E</tspan> (V <tspan font-style="italic">vs.</tspan> RHE)</text>
<text font-size="16" text-anchor="middle" transform="translate(15.5 637.2) rotate(-90)"><tspan font-style="italic">j</tspan><tspan dy="3.8" font-size="66%">C2</tspan><tspan dy="-3.8">​</tspan> (mA cm<tspan dy="-5.5" font-size="68%">-2</tspan><tspan dy="5.5">​</tspan>)</text>
<rect x="379.4" y="304.05" width="22.4" height="180.75" fill="#289a4e" />
<rect x="423.15" y="301.21" width="22.4" height="172.03" fill="#289a4e" />
<rect x="423.15" y="473.24" width="22.4" height="6.61" fill="#8c9bf9" />
<rect x="423.15" y="479.85" width="22.4" height="5.25" fill="#5a70f2" />
<rect x="466.9" y="302.03" width="22.4" height="169.92" fill="#289a4e" />
<rect x="466.9" y="471.96" width="22.4" height="8.07" fill="#8c9bf9" />
<rect x="466.9" y="480.03" width="22.4" height="5.07" fill="#5a70f2" />
<rect x="510.65" y="302.03" width="22.4" height="169" fill="#289a4e" />
<rect x="510.65" y="471.04" width="22.4" height="9.91" fill="#8c9bf9" />
<rect x="510.65" y="480.95" width="22.4" height="4.15" fill="#5a70f2" />
<rect x="554.4" y="301.21" width="22.4" height="172.95" fill="#289a4e" />
<rect x="554.4" y="474.16" width="22.4" height="7.89" fill="#8c9bf9" />
<rect x="554.4" y="482.05" width="22.4" height="3.05" fill="#5a70f2" />
<rect x="598.15" y="301.21" width="22.4" height="181.94" fill="#289a4e" />
<rect x="598.15" y="483.15" width="22.4" height="0.92" fill="#8c9bf9" />
<rect x="598.15" y="484.07" width="22.4" height="1.03" fill="#5a70f2" />
<path d="M390.6 303.5V304.6M388.3 303.5H392.9M388.3 304.6H392.9" stroke="#000" stroke-width="1.1" fill="none"/>
<path d="M434.35 299.01V303.41M432.05 299.01H436.65M432.05 303.41H436.65" stroke="#000" stroke-width="1.1" fill="none"/>
<path d="M434.35 471.59V474.89M432.05 471.59H436.65M432.05 474.89H436.65" stroke="#000" stroke-width="1.1" fill="none"/>
<path d="M434.35 478.38V481.31M432.05 478.38H436.65M432.05 481.31H436.65" stroke="#000" stroke-width="1.1" fill="none"/>
<path d="M478.1 294.69V309.37M475.8 294.69H480.4M475.8 309.37H480.4" stroke="#000" stroke-width="1.1" fill="none"/>
<path d="M478.1 466.63V477.28M475.8 466.63H480.4M475.8 477.28H480.4" stroke="#000" stroke-width="1.1" fill="none"/>
<path d="M478.1 478.56V481.5M475.8 478.56H480.4M475.8 481.5H480.4" stroke="#000" stroke-width="1.1" fill="none"/>
<path d="M521.85 295.06V309.01M519.55 295.06H524.15M519.55 309.01H524.15" stroke="#000" stroke-width="1.1" fill="none"/>
<path d="M521.85 465.35V476.73M519.55 465.35H524.15M519.55 476.73H524.15" stroke="#000" stroke-width="1.1" fill="none"/>
<path d="M521.85 479.3V482.6M519.55 479.3H524.15M519.55 482.6H524.15" stroke="#000" stroke-width="1.1" fill="none"/>
<path d="M565.6 290.2V312.22M563.3 290.2H567.9M563.3 312.22H567.9" stroke="#000" stroke-width="1.1" fill="none"/>
<path d="M565.6 466.63V481.68M563.3 466.63H567.9M563.3 481.68H567.9" stroke="#000" stroke-width="1.1" fill="none"/>
<path d="M565.6 481.5V482.6M563.3 481.5H567.9M563.3 482.6H567.9" stroke="#000" stroke-width="1.1" fill="none"/>
<path d="M609.35 299.01V303.41M607.05 299.01H611.65M607.05 303.41H611.65" stroke="#000" stroke-width="1.1" fill="none"/>
<path d="M609.35 481.68V484.62M607.05 481.68H611.65M607.05 484.62H611.65" stroke="#000" stroke-width="1.1" fill="none"/>
<path d="M609.35 483.52V484.62M607.05 483.52H611.65M607.05 484.62H611.65" stroke="#000" stroke-width="1.1" fill="none"/>
<rect x="380" y="277" width="31" height="15.2" fill="#289a4e" />
<text x="415.4" y="289.2" font-size="13" text-anchor="start" >H<tspan dy="3.6" font-size="70%">2</tspan><tspan dy="-3.6">​</tspan></text>
<rect x="434.2" y="277" width="31" height="15.2" fill="#8c9bf9" />
<text x="468.8" y="289.2" font-size="13" text-anchor="start" >CH<tspan dy="3.6" font-size="70%">4</tspan><tspan dy="-3.6">​</tspan></text>
<rect x="498.3" y="277" width="31" height="15.2" fill="#5a70f2" />
<text x="533.3" y="289.2" font-size="13" text-anchor="start" >CO</text>
<path d="M394.65 460.45L430.3 436.21M438.71 431.22L473.74 413.19M482.19 408.26L517.76 384.81M526.03 379.56L561.42 357.95M569.27 352.15L605.68 319.96" fill="none" stroke="#f5870f" stroke-width="1.6"/>
<circle cx="390.6" cy="463.21" r="3.65" fill="url(#rboo)"/>
<circle cx="434.35" cy="433.46" r="3.65" fill="url(#rboo)"/>
<circle cx="478.1" cy="410.95" r="3.65" fill="url(#rboo)"/>
<circle cx="521.85" cy="382.12" r="3.65" fill="url(#rboo)"/>
<circle cx="565.6" cy="355.39" r="3.65" fill="url(#rboo)"/>
<circle cx="609.35" cy="316.71" r="3.65" fill="url(#rboo)"/>
<path d="M388.3 461.45H392.9M388.3 464.97H392.9M390.6 461.45V463.21M390.6 463.21V464.97" stroke="#111" stroke-width="1.2" fill="none"/>
<path d="M432.05 427.69H436.65M432.05 439.23H436.65M434.35 427.69V429.56M434.35 437.36V439.23" stroke="#111" stroke-width="1.2" fill="none"/>
<path d="M475.8 405.54H480.4M475.8 416.37H480.4M478.1 405.54V407.05M478.1 414.85V416.37" stroke="#111" stroke-width="1.2" fill="none"/>
<path d="M519.55 375.93H524.15M519.55 388.31H524.15M521.85 375.93V378.22M521.85 386.02V388.31" stroke="#111" stroke-width="1.2" fill="none"/>
<path d="M563.3 345.55H567.9M563.3 365.24H567.9M565.6 345.55V351.49M565.6 359.29V365.24" stroke="#111" stroke-width="1.2" fill="none"/>
<path d="M607.05 309.47H611.65M607.05 323.96H611.65M609.35 309.47V312.81M609.35 320.61V323.96" stroke="#111" stroke-width="1.2" fill="none"/>
<rect x="368.8" y="273.8" width="262.4" height="211.1" fill="none" stroke="#000" stroke-width="1.5"/>
<line x1="368.8" y1="484.8" x2="372.8" y2="484.8" stroke="#000" stroke-width="1.5" />
<text x="363.5" y="490.1" font-size="16" text-anchor="end" >0</text>
<line x1="368.8" y1="448.1" x2="372.8" y2="448.1" stroke="#000" stroke-width="1.5" />
<text x="363.5" y="453.4" font-size="16" text-anchor="end" >20</text>
<line x1="368.8" y1="411.4" x2="372.8" y2="411.4" stroke="#000" stroke-width="1.5" />
<text x="363.5" y="416.7" font-size="16" text-anchor="end" >40</text>
<line x1="368.8" y1="374.7" x2="372.8" y2="374.7" stroke="#000" stroke-width="1.5" />
<text x="363.5" y="380" font-size="16" text-anchor="end" >60</text>
<line x1="368.8" y1="338" x2="372.8" y2="338" stroke="#000" stroke-width="1.5" />
<text x="363.5" y="343.3" font-size="16" text-anchor="end" >80</text>
<line x1="368.8" y1="301.3" x2="372.8" y2="301.3" stroke="#000" stroke-width="1.5" />
<text x="363.5" y="306.6" font-size="16" text-anchor="end" >100</text>
<line x1="368.8" y1="466.45" x2="371.3" y2="466.45" stroke="#000" stroke-width="1.5" />
<line x1="368.8" y1="429.75" x2="371.3" y2="429.75" stroke="#000" stroke-width="1.5" />
<line x1="368.8" y1="393.05" x2="371.3" y2="393.05" stroke="#000" stroke-width="1.5" />
<line x1="368.8" y1="356.35" x2="371.3" y2="356.35" stroke="#000" stroke-width="1.5" />
<line x1="368.8" y1="319.65" x2="371.3" y2="319.65" stroke="#000" stroke-width="1.5" />
<line x1="368.8" y1="282.95" x2="371.3" y2="282.95" stroke="#000" stroke-width="1.5" />
<line x1="631.2" y1="484.8" x2="627.2" y2="484.8" stroke="#000" stroke-width="1.5" />
<text x="635.8" y="490.1" font-size="16" text-anchor="start" >0</text>
<line x1="631.2" y1="414.47" x2="627.2" y2="414.47" stroke="#000" stroke-width="1.5" />
<text x="635.8" y="419.77" font-size="16" text-anchor="start" >100</text>
<line x1="631.2" y1="344.14" x2="627.2" y2="344.14" stroke="#000" stroke-width="1.5" />
<text x="635.8" y="349.44" font-size="16" text-anchor="start" >200</text>
<line x1="631.2" y1="273.81" x2="627.2" y2="273.81" stroke="#000" stroke-width="1.5" />
<text x="635.8" y="279.11" font-size="16" text-anchor="start" >300</text>
<line x1="631.2" y1="449.63" x2="628.7" y2="449.63" stroke="#000" stroke-width="1.5" />
<line x1="631.2" y1="379.31" x2="628.7" y2="379.31" stroke="#000" stroke-width="1.5" />
<line x1="631.2" y1="308.98" x2="628.7" y2="308.98" stroke="#000" stroke-width="1.5" />
<line x1="390.6" y1="484.9" x2="390.6" y2="480.9" stroke="#000" stroke-width="1.5" />
<text x="390.6" y="502.7" font-size="16" text-anchor="middle" >-0.4</text>
<line x1="434.35" y1="484.9" x2="434.35" y2="480.9" stroke="#000" stroke-width="1.5" />
<text x="434.35" y="502.7" font-size="16" text-anchor="middle" >-0.5</text>
<line x1="478.1" y1="484.9" x2="478.1" y2="480.9" stroke="#000" stroke-width="1.5" />
<text x="478.1" y="502.7" font-size="16" text-anchor="middle" >-0.6</text>
<line x1="521.85" y1="484.9" x2="521.85" y2="480.9" stroke="#000" stroke-width="1.5" />
<text x="521.85" y="502.7" font-size="16" text-anchor="middle" >-0.7</text>
<line x1="565.6" y1="484.9" x2="565.6" y2="480.9" stroke="#000" stroke-width="1.5" />
<text x="565.6" y="502.7" font-size="16" text-anchor="middle" >-0.8</text>
<line x1="609.35" y1="484.9" x2="609.35" y2="480.9" stroke="#000" stroke-width="1.5" />
<text x="609.35" y="502.7" font-size="16" text-anchor="middle" >-0.9</text>
<line x1="412.48" y1="484.9" x2="412.48" y2="482.4" stroke="#000" stroke-width="1.5" />
<line x1="456.23" y1="484.9" x2="456.23" y2="482.4" stroke="#000" stroke-width="1.5" />
<line x1="499.98" y1="484.9" x2="499.98" y2="482.4" stroke="#000" stroke-width="1.5" />
<line x1="543.73" y1="484.9" x2="543.73" y2="482.4" stroke="#000" stroke-width="1.5" />
<line x1="587.48" y1="484.9" x2="587.48" y2="482.4" stroke="#000" stroke-width="1.5" />
<text x="329.2" y="288.6" font-size="24" text-anchor="start" font-weight="bold">c</text>
<text x="501.7" y="518.8" font-size="16" text-anchor="middle" ><tspan font-style="italic">E</tspan> (V <tspan font-style="italic">vs.</tspan> RHE)</text>
<text x="0" y="0" font-size="16" text-anchor="middle" transform="translate(344.0 371.8) rotate(-90)">FE (%)</text>
<text font-size="16" text-anchor="middle" transform="translate(678.2 379.6) rotate(-90)"><tspan font-style="italic">j</tspan><tspan dy="3.8" font-size="71%">total</tspan><tspan dy="-3.8">​</tspan> (mA cm<tspan dy="-5.5" font-size="68%">-2</tspan><tspan dy="5.5">​</tspan>)</text>
<polygon points="370.8,632.71 371.6,640.04 373,640.51 373.88,639.71 374.76,639.25 375.64,637.64 376.52,636.97 377.4,635.56 378.3,638.77 379.14,638.94 379.97,639.17 380.81,639.26 381.64,639.35 382.48,638.77 383.31,639.15 384.15,638.95 384.99,639.14 385.82,639.46 386.66,639.25 387.49,639.53 388.33,639.31 389.16,639.2 390,639.47 390.8,639.44 391.6,639 392.4,638.8 393.2,639.08 394,639.25 394.8,638.89 395.6,639.21 396.4,638.9 397.2,639.74 398,639.31 398.8,639.46 399.6,639.79 400.4,639.61 401.2,639.86 402,639.01 403.2,639.02 404.2,639.05 405.15,639.36 406.1,639.16 407.05,638.86 408,638.41 409,638.58 410,639.04 411,639.7 412,640.16 413,639.72 414,638.89 414.86,638.86 415.71,639.04 416.57,639.02 417.43,639.19 418.29,639.33 419.14,639.68 420,639.73 420.83,639.27 421.67,639.63 422.5,639.25 423.33,639.66 424.17,639.58 425,639.61 425.83,639.38 426.67,639.13 427.5,638.83 428.33,638.84 429.17,639.17 430,639.31 430.88,638.97 431.75,639.6 432.62,639.99 433.5,640.53 434.38,640.38 435.25,641.11 436.12,641.52 437,641.01 437.8,640.92 438.6,641.23 439.4,641.34 440.2,640.63 441,641.17 441.8,640.56 442.6,640.74 443.4,640.21 444.2,640.42 445,639.87 445.81,640.23 446.62,640.28 447.44,639.78 448.25,639.7 449.06,639.43 449.88,639.15 450.69,639.76 451.5,639.66 452.31,639.15 453.12,639.21 453.94,639.09 454.75,638.47 455.56,638.95 456.38,638.23 457.19,638.04 458,638.66 458.83,638.67 459.67,637.77 460.5,638.29 461.33,638.41 462.17,637.99 463,637.56 463.83,637.99 464.67,637.59 465.5,637.22 466.33,637.44 467.17,637.61 468,637.37 468.8,637.71 469.8,638.17 470.67,638.05 471.53,638.04 472.4,638.23 473.27,638.96 474.13,638.62 475,638.64 475.83,638.78 476.67,638.77 477.5,639.41 478.33,638.98 479.17,639.1 480,639.4 480.83,639.54 481.67,638.92 482.5,639.61 483.33,638.96 484.17,639.46 485,639.1 485.83,639.29 486.67,639.03 487.5,639.3 488.33,639.03 489.17,639.5 490,639.96 490.83,639.43 491.67,639.65 492.5,639.86 493.33,640.7 494.17,640.83 495,640.69 495.83,641.28 496.67,641.34 497.5,641.74 498.33,641.93 499.17,642.38 500,642.64 500.83,642.23 501.67,641.95 502.5,641.31 503.33,641.61 504.17,641.04 505,641.29 505.83,640.61 506.67,640.57 507.5,640.84 508.33,640.13 509.17,640.02 510,639.97 510.83,640.35 511.67,640.1 512.5,639.62 513.33,639.52 514.17,639.24 515,639.95 515.83,639.62 516.67,639.7 517.5,639.51 518.33,639.07 519.17,639.5 520,639.22 520.83,639.62 521.67,639.9 522.5,639.74 523.33,639.23 524.17,639.85 525,639.63 525.86,639.3 526.71,639.18 527.57,639.11 528.43,638.71 529.29,637.82 530.14,637.69 531,637.78 531.87,637.57 532.73,637.66 533.6,637.95 534.4,639.48 535.2,639 536,639.13 536.8,639.19 537.6,639.15 538.4,639.15 539.2,639.4 540,639.05 540.83,638.94 541.67,638.92 542.5,639.31 543.33,638.71 544.17,639.29 545,638.77 545.83,639.1 546.67,638.32 547.5,638.63 548.33,638.12 549.17,638.64 550,638.13 550.83,638.45 551.67,638.05 552.5,637.66 553.33,637.65 554.17,638.04 555,637.76 555.83,637.83 556.67,637.11 557.5,637.04 558.33,637.25 559.17,637.04 560,636.52 560.83,637.04 561.67,637.13 562.5,637.09 563.33,636.89 564.17,636.23 565,636.19 565.83,636.44 566.67,636.68 567.5,637.43 568.33,638.04 569.17,637.81 570,638.41 570.83,637.84 571.67,637.76 572.5,637.81 573.33,638.03 574.17,638.14 575,638.35 575.83,637.95 576.67,638.06 577.5,637.99 578.33,637.55 579.17,637.52 580,637.81 580.83,637.6 581.67,637.69 582.5,637.56 583.33,638 584.17,637.87 585,637.68 585.82,638.14 586.65,637.63 587.47,637.51 588.29,637.32 589.12,637.68 589.94,637.44 590.76,637.84 591.59,637.25 592.41,637.21 593.24,637.75 594.06,637.89 594.88,637.37 595.71,637.56 596.53,637.31 597.35,637.76 598.18,637.74 599,637.48 600,640.55 600.83,640.99 601.67,641.53 602.5,640.74 603.33,640.85 604.17,641.16 605,641.33 605.83,641.59 606.67,641.83 607.5,641.86 608.33,642 609.17,641.48 610,642.21 611.5,642 612.5,644.44 613.33,644.05 614.15,644.79 614.98,644.22 615.8,644.31 616.62,644.18 617.45,644.67 618.27,644.45 619.1,644.39 619.92,644.54 620.75,644.5 621.58,644.71 622.4,644.08 623.23,644.24 624.05,644.14 624.88,644.19 625.7,644.02 626.52,643.97 627.35,643.97 628.17,644.65 629,643.9 630,643.96 631,644.14 632,644.3 632,650.7 631,652.38 630,655.54 629,650.26 628.17,651 627.35,650.83 626.52,650.28 625.7,650.36 624.88,650.69 624.05,651.84 623.23,651.64 622.4,651.86 621.58,651.98 620.75,650.84 619.92,651.96 619.1,651.16 618.27,650.28 617.45,651.92 616.62,651.34 615.8,652.26 614.98,651.29 614.15,651.51 613.33,650.83 612.5,651.33 611.5,647.86 610,647.51 609.17,645.8 608.33,646.94 607.5,647.48 606.67,646.46 605.83,647.38 605,648.69 604.17,646.66 603.33,647.33 602.5,647.16 601.67,646.44 600.83,648.39 600,646.91 599,642.77 598.18,641.81 597.35,642.48 596.53,642.91 595.71,642.8 594.88,643.1 594.06,643.01 593.24,644.31 592.41,642.76 591.59,643.15 590.76,644.13 589.94,643.6 589.12,646.97 588.29,644.37 587.47,644.89 586.65,645.11 585.82,644.17 585,645.2 584.17,645.2 583.33,645.13 582.5,643.75 581.67,644.32 580.83,644.2 580,644.83 579.17,644.68 578.33,644.3 577.5,644.58 576.67,645.32 575.83,643.95 575,644.46 574.17,645.09 573.33,644.29 572.5,645.67 571.67,643.97 570.83,644.12 570,645.07 569.17,645.56 568.33,644.44 567.5,644.02 566.67,644.31 565.83,645.3 565,645.14 564.17,644.95 563.33,644.97 562.5,645.35 561.67,645.88 560.83,644.94 560,645.83 559.17,645.27 558.33,646.45 557.5,645.44 556.67,646.73 555.83,645.96 555,646.97 554.17,645.72 553.33,646.1 552.5,647.2 551.67,647.46 550.83,645.7 550,647.31 549.17,646.48 548.33,649.18 547.5,648.08 546.67,648.6 545.83,648.87 545,648.5 544.17,649.43 543.33,650.46 542.5,650.19 541.67,650.95 540.83,652.43 540,651.81 539.2,652.09 538.4,653.58 537.6,651.87 536.8,652.43 536,653.28 535.2,653.05 534.4,654.09 533.6,642.73 532.73,642.26 531.87,642.73 531,642.54 530.14,642.92 529.29,642.31 528.43,643.36 527.57,644.34 526.71,643.53 525.86,644.93 525,643.57 524.17,644.04 523.33,643.64 522.5,646.72 521.67,645.45 520.83,644.65 520,647.16 519.17,644.99 518.33,645.57 517.5,645.33 516.67,644.82 515.83,645.58 515,645.17 514.17,646.26 513.33,645.4 512.5,646.21 511.67,645.69 510.83,647.28 510,646.28 509.17,647.71 508.33,646.94 507.5,647.36 506.67,647.71 505.83,648.69 505,647.48 504.17,648.37 503.33,649.35 502.5,648.84 501.67,650.05 500.83,650.76 500,650.28 499.17,651.06 498.33,650.76 497.5,650.38 496.67,649.7 495.83,649.82 495,650.01 494.17,649.56 493.33,649.51 492.5,649.63 491.67,649.27 490.83,647.8 490,647.78 489.17,647.24 488.33,647.3 487.5,647.61 486.67,647.93 485.83,647.54 485,647.63 484.17,647.43 483.33,646.05 482.5,647.06 481.67,646.6 480.83,645.92 480,645.6 479.17,645.58 478.33,646.1 477.5,645.21 476.67,645.62 475.83,644.23 475,646.33 474.13,645.37 473.27,644.23 472.4,644.06 471.53,643.97 470.67,644.97 469.8,645.33 468.8,654.3 468,643.97 467.17,644.63 466.33,644.73 465.5,644.35 464.67,644.17 463.83,644.37 463,644.2 462.17,645.47 461.33,644.06 460.5,644.26 459.67,645.7 458.83,645.44 458,645.75 457.19,646.18 456.38,646.35 455.56,644.77 454.75,647.31 453.94,646.34 453.12,646.74 452.31,645.3 451.5,646.73 450.69,647.12 449.88,646.19 449.06,646.5 448.25,646.91 447.44,646.61 446.62,646.96 445.81,647.37 445,646.26 444.2,647.54 443.4,646.98 442.6,647.7 441.8,647.37 441,647.12 440.2,647.3 439.4,648.69 438.6,648.43 437.8,648.33 437,649.26 436.12,649.07 435.25,647.27 434.38,646.78 433.5,646.8 432.62,646 431.75,645.6 430.88,644.84 430,647.72 429.17,645.61 428.33,648.71 427.5,644.04 426.67,644.54 425.83,645.71 425,645.95 424.17,646.14 423.33,647.9 422.5,645.14 421.67,644.91 420.83,644.69 420,645.78 419.14,645.22 418.29,645.6 417.43,646.02 416.57,647.23 415.71,648 414.86,647.31 414,648.4 413,646.48 412,645.62 411,646.55 410,648.6 409,647.13 408,646.19 407.05,646.68 406.1,644.54 405.15,644.96 404.2,645.25 403.2,652.23 402,644.83 401.2,645.01 400.4,644.41 399.6,644.91 398.8,644.99 398,644.87 397.2,645.59 396.4,645.5 395.6,644.95 394.8,646.39 394,645.66 393.2,645.4 392.4,647.63 391.6,645.1 390.8,644.35 390,645.48 389.16,644.11 388.33,643.99 387.49,645.42 386.66,643.97 385.82,645.39 384.99,645.52 384.15,644.45 383.31,644.39 382.48,645.75 381.64,644.05 380.81,644.78 379.97,645.77 379.14,645.4 378.3,644.06 377.4,640.52 376.52,641.48 375.64,642.27 374.76,642.95 373.88,644.99 373,645.67 371.6,646.25 370.8,648.09" fill="#000" stroke="#000" stroke-width="0.4"/>
<circle cx="383.79" cy="581" r="3.6" fill="url(#rbrr)"/>
<circle cx="396.87" cy="583.3" r="3.6" fill="url(#rbrr)"/>
<circle cx="416.5" cy="583.7" r="3.6" fill="url(#rbrr)"/>
<circle cx="429.59" cy="581.4" r="3.6" fill="url(#rbrr)"/>
<circle cx="449.22" cy="584.2" r="3.6" fill="url(#rbrr)"/>
<circle cx="462.3" cy="584.8" r="3.6" fill="url(#rbrr)"/>
<circle cx="481.93" cy="586.7" r="3.6" fill="url(#rbrr)"/>
<circle cx="495.02" cy="585.6" r="3.6" fill="url(#rbrr)"/>
<circle cx="514.65" cy="587.5" r="3.6" fill="url(#rbrr)"/>
<circle cx="527.73" cy="586.7" r="3.6" fill="url(#rbrr)"/>
<circle cx="547.36" cy="588.2" r="3.6" fill="url(#rbrr)"/>
<circle cx="560.45" cy="588.4" r="3.6" fill="url(#rbrr)"/>
<circle cx="580.08" cy="591.3" r="3.6" fill="url(#rbrr)"/>
<circle cx="593.16" cy="592.8" r="3.6" fill="url(#rbrr)"/>
<circle cx="612.79" cy="595" r="3.6" fill="url(#rbrr)"/>
<circle cx="383.79" cy="715.2" r="3.6" fill="url(#rbbl)"/>
<circle cx="383.79" cy="717.1" r="3.6" fill="url(#rbgr)"/>
<circle cx="396.87" cy="714.8" r="3.6" fill="url(#rbbl)"/>
<circle cx="396.87" cy="717.5" r="3.6" fill="url(#rbgr)"/>
<circle cx="416.5" cy="715.6" r="3.6" fill="url(#rbbl)"/>
<circle cx="416.5" cy="717.1" r="3.6" fill="url(#rbgr)"/>
<circle cx="429.59" cy="718.6" r="3.6" fill="url(#rbbl)"/>
<circle cx="429.59" cy="716.1" r="3.6" fill="url(#rbgr)"/>
<circle cx="449.22" cy="719.9" r="3.6" fill="url(#rbbl)"/>
<circle cx="449.22" cy="712.9" r="3.6" fill="url(#rbgr)"/>
<circle cx="462.3" cy="714.2" r="3.6" fill="url(#rbbl)"/>
<circle cx="462.3" cy="715.7" r="3.6" fill="url(#rbgr)"/>
<circle cx="481.93" cy="714.6" r="3.6" fill="url(#rbbl)"/>
<circle cx="481.93" cy="711.4" r="3.6" fill="url(#rbgr)"/>
<circle cx="495.02" cy="716.5" r="3.6" fill="url(#rbbl)"/>
<circle cx="495.02" cy="713.3" r="3.6" fill="url(#rbgr)"/>
<circle cx="514.65" cy="711.7" r="3.6" fill="url(#rbbl)"/>
<circle cx="514.65" cy="715.9" r="3.6" fill="url(#rbgr)"/>
<circle cx="527.73" cy="714.5" r="3.6" fill="url(#rbbl)"/>
<circle cx="527.73" cy="711.7" r="3.6" fill="url(#rbgr)"/>
<circle cx="547.36" cy="716.3" r="3.6" fill="url(#rbbl)"/>
<circle cx="547.36" cy="710.2" r="3.6" fill="url(#rbgr)"/>
<circle cx="560.45" cy="717.8" r="3.6" fill="url(#rbbl)"/>
<circle cx="560.45" cy="710.2" r="3.6" fill="url(#rbgr)"/>
<circle cx="580.08" cy="715.9" r="3.6" fill="url(#rbbl)"/>
<circle cx="580.08" cy="709.2" r="3.6" fill="url(#rbgr)"/>
<circle cx="593.16" cy="716.3" r="3.6" fill="url(#rbbl)"/>
<circle cx="593.16" cy="708.3" r="3.6" fill="url(#rbgr)"/>
<circle cx="612.79" cy="715.5" r="3.6" fill="url(#rbbl)"/>
<circle cx="612.79" cy="706.8" r="3.6" fill="url(#rbgr)"/>
<circle cx="389.8" cy="542.2" r="3.6" fill="url(#rbrr)"/>
<text x="404.3" y="546.8" font-size="13" text-anchor="start" >C<tspan dy="3.6" font-size="70%">2</tspan><tspan dy="-3.6">​</tspan> products</text>
<circle cx="490.8" cy="542.2" r="3.6" fill="url(#rbbl)"/>
<text x="504.6" y="546.8" font-size="13" text-anchor="start" >C<tspan dy="3.6" font-size="70%">1</tspan><tspan dy="-3.6">​</tspan> products</text>
<circle cx="590.4" cy="542.2" r="3.6" fill="url(#rbgr)"/>
<text x="605.4" y="546.8" font-size="13" text-anchor="start" >H<tspan dy="3.6" font-size="70%">2</tspan><tspan dy="-3.6">​</tspan></text>
<rect x="370.7" y="531.4" width="261.7" height="210.6" fill="none" stroke="#000" stroke-width="1.5"/>
<line x1="370.7" y1="531.4" x2="374.7" y2="531.4" stroke="#000" stroke-width="1.5" />
<text x="365.4" y="536.7" font-size="16" text-anchor="end" >2</text>
<line x1="370.7" y1="573.52" x2="374.7" y2="573.52" stroke="#000" stroke-width="1.5" />
<text x="365.4" y="578.82" font-size="16" text-anchor="end" >1</text>
<line x1="370.7" y1="615.64" x2="374.7" y2="615.64" stroke="#000" stroke-width="1.5" />
<text x="365.4" y="620.94" font-size="16" text-anchor="end" >0</text>
<line x1="370.7" y1="657.76" x2="374.7" y2="657.76" stroke="#000" stroke-width="1.5" />
<text x="365.4" y="663.06" font-size="16" text-anchor="end" >-1</text>
<line x1="370.7" y1="699.88" x2="374.7" y2="699.88" stroke="#000" stroke-width="1.5" />
<text x="365.4" y="705.18" font-size="16" text-anchor="end" >-2</text>
<line x1="370.7" y1="742" x2="374.7" y2="742" stroke="#000" stroke-width="1.5" />
<text x="365.4" y="747.3" font-size="16" text-anchor="end" >-3</text>
<line x1="370.7" y1="552.46" x2="373.2" y2="552.46" stroke="#000" stroke-width="1.5" />
<line x1="370.7" y1="594.58" x2="373.2" y2="594.58" stroke="#000" stroke-width="1.5" />
<line x1="370.7" y1="636.7" x2="373.2" y2="636.7" stroke="#000" stroke-width="1.5" />
<line x1="370.7" y1="678.82" x2="373.2" y2="678.82" stroke="#000" stroke-width="1.5" />
<line x1="370.7" y1="720.94" x2="373.2" y2="720.94" stroke="#000" stroke-width="1.5" />
<line x1="632.4" y1="742" x2="628.4" y2="742" stroke="#000" stroke-width="1.5" />
<text x="637" y="747.3" font-size="16" text-anchor="start" >0</text>
<line x1="632.4" y1="699.88" x2="628.4" y2="699.88" stroke="#000" stroke-width="1.5" />
<text x="637" y="705.18" font-size="16" text-anchor="start" >20</text>
<line x1="632.4" y1="657.76" x2="628.4" y2="657.76" stroke="#000" stroke-width="1.5" />
<text x="637" y="663.06" font-size="16" text-anchor="start" >40</text>
<line x1="632.4" y1="615.64" x2="628.4" y2="615.64" stroke="#000" stroke-width="1.5" />
<text x="637" y="620.94" font-size="16" text-anchor="start" >60</text>
<line x1="632.4" y1="573.52" x2="628.4" y2="573.52" stroke="#000" stroke-width="1.5" />
<text x="637" y="578.82" font-size="16" text-anchor="start" >80</text>
<line x1="632.4" y1="531.4" x2="628.4" y2="531.4" stroke="#000" stroke-width="1.5" />
<text x="637" y="536.7" font-size="16" text-anchor="start" >100</text>
<line x1="632.4" y1="720.94" x2="629.9" y2="720.94" stroke="#000" stroke-width="1.5" />
<line x1="632.4" y1="678.82" x2="629.9" y2="678.82" stroke="#000" stroke-width="1.5" />
<line x1="632.4" y1="636.7" x2="629.9" y2="636.7" stroke="#000" stroke-width="1.5" />
<line x1="632.4" y1="594.58" x2="629.9" y2="594.58" stroke="#000" stroke-width="1.5" />
<line x1="632.4" y1="552.46" x2="629.9" y2="552.46" stroke="#000" stroke-width="1.5" />
<line x1="370.7" y1="742" x2="370.7" y2="738" stroke="#000" stroke-width="1.5" />
<text x="370.7" y="758.8" font-size="16" text-anchor="middle" >0</text>
<line x1="436.13" y1="742" x2="436.13" y2="738" stroke="#000" stroke-width="1.5" />
<text x="436.13" y="758.8" font-size="16" text-anchor="middle" >10</text>
<line x1="501.56" y1="742" x2="501.56" y2="738" stroke="#000" stroke-width="1.5" />
<text x="501.56" y="758.8" font-size="16" text-anchor="middle" >20</text>
<line x1="566.99" y1="742" x2="566.99" y2="738" stroke="#000" stroke-width="1.5" />
<text x="566.99" y="758.8" font-size="16" text-anchor="middle" >30</text>
<line x1="632.42" y1="742" x2="632.42" y2="738" stroke="#000" stroke-width="1.5" />
<text x="632.42" y="758.8" font-size="16" text-anchor="middle" >40</text>
<line x1="403.41" y1="742" x2="403.41" y2="739.5" stroke="#000" stroke-width="1.5" />
<line x1="468.84" y1="742" x2="468.84" y2="739.5" stroke="#000" stroke-width="1.5" />
<line x1="534.27" y1="742" x2="534.27" y2="739.5" stroke="#000" stroke-width="1.5" />
<line x1="599.7" y1="742" x2="599.7" y2="739.5" stroke="#000" stroke-width="1.5" />
<text x="330.4" y="544" font-size="24" text-anchor="start" font-weight="bold">e</text>
<text x="504.8" y="777.2" font-size="16" text-anchor="middle" >Time (h)</text>
<text x="0" y="0" font-size="16" text-anchor="middle" transform="translate(346.2 637.1) rotate(-90)"><tspan font-style="italic">E</tspan> (V <tspan font-style="italic">vs.</tspan> RHE)</text>
<text x="0" y="0" font-size="16" text-anchor="middle" transform="translate(673.4 633.6) rotate(-90)">FE (%)</text>
</svg>
</body></html>
